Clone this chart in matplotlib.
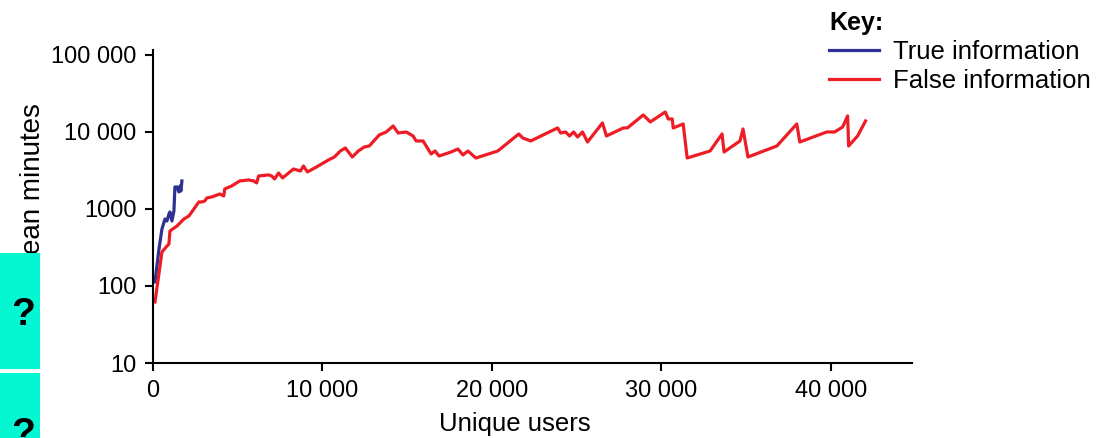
import matplotlib
matplotlib.use("Agg")
import matplotlib.pyplot as plt
from matplotlib.patches import Rectangle
from matplotlib.ticker import FixedLocator, NullLocator

plt.rcParams['font.family'] = ['Liberation Sans', 'DejaVu Sans']

# True information: unique users vs mean minutes
true_users = [118, 353, 529, 706, 824, 941, 1000, 1118, 1235, 1294, 1412, 1529, 1588, 1647, 1706]
true_minutes = [113, 302, 550, 741, 698, 861, 914, 698, 942, 1932, 1932, 1665, 1991, 1714, 2311]

# False information: unique users vs mean minutes
false_users = [118, 529, 824, 941, 1000, 1412, 1824, 2118, 2706, 2882, 3059, 3176, 3471, 3941,
               4176, 4235, 4647, 5118, 5647, 5941, 6118, 6235, 6824, 7000, 7176, 7412, 7647,
               8294, 8706, 8882, 9118, 9647, 10353, 10706, 11059, 11353, 11765, 12118, 12471,
               12765, 13353, 13765, 14176, 14471, 14941, 15353, 15529, 15941, 16412, 16647,
               16882, 17588, 18000, 18294, 18588, 19059, 20353, 21588, 21824, 22294, 23882,
               24059, 24353, 24588, 24824, 25059, 25353, 25647, 26529, 26765, 27765, 28000,
               28941, 29353, 30235, 30412, 30647, 30706, 31294, 31529, 32882, 33588, 33706,
               34647, 34824, 35118, 36824, 38000, 38176, 39765, 40235, 40706, 41000, 41059,
               41588, 42059]
false_minutes = [62, 277, 330, 351, 518, 601, 741, 811, 1233, 1233, 1270, 1390, 1432, 1567,
                 1476, 1820, 1991, 2311, 2383, 2311, 2178, 2686, 2767, 2686, 2455, 2938, 2530,
                 3306, 3115, 3616, 3025, 3510, 4325, 4733, 5665, 6197, 4733, 5665, 6385,
                 6581, 9140, 10000, 11970, 9700, 10000, 8870, 7640, 7640, 5180, 5665,
                 4875, 5495, 6010, 5025, 5665, 4590, 5665, 9420, 8360, 7640, 11280,
                 9700, 10000, 8870, 10000, 8610, 10000, 7410, 13100, 8870, 11280, 11280,
                 16630, 13500, 18190, 14760, 14760, 11280, 12710, 4590, 5665, 9420, 5495,
                 7640, 10940, 4733, 6581, 12710, 7410, 10000, 10000, 11610, 16150, 6581,
                 8870, 13900]

x_ticks = [0, 10000, 20000, 30000, 40000]
x_ticklabels = ['0', '10 000', '20 000', '30 000', '40 000']
y_ticks = [10, 100, 1000, 10000, 100000]
y_ticklabels = ['10', '100', '1000', '10 000', '100 000']

W, H = 1113, 438
fig = plt.figure(figsize=(W / 100, H / 100), dpi=100)
ax = fig.add_axes([153 / W, 1 - 363 / H, (912 - 153) / W, (363 - 50) / H])

ax.plot(true_users, true_minutes, color='#2E3192', lw=2.3, label='True information')
ax.plot(false_users, false_minutes, color='#EE1C25', lw=2.3, label='False information')

ax.set_yscale('log')
ax.set_xlim(0, 44800)
ax.set_ylim(10, 116000)
ax.xaxis.set_major_locator(FixedLocator(x_ticks))
ax.set_xticklabels(x_ticklabels)
ax.yaxis.set_major_locator(FixedLocator(y_ticks))
ax.yaxis.set_minor_locator(NullLocator())
ax.set_yticklabels(y_ticklabels)

for side in ['top', 'right']:
    ax.spines[side].set_visible(False)
for side in ['left', 'bottom']:
    ax.spines[side].set_linewidth(1.5)
ax.tick_params(width=1.5, length=6, labelsize=17, pad=6, colors='black')

ax.set_xlabel('Unique users', fontsize=18.5)
ax.xaxis.set_label_coords(0.477, -0.158)
ax.set_ylabel('Mean minutes', fontsize=20)
ax.yaxis.set_label_coords(-0.141, 0.553)

leg = ax.legend(title='Key:', loc='upper left', bbox_to_anchor=(829 / W, 1 - 11 / H),
                bbox_transform=fig.transFigure, frameon=False, fontsize=18.5,
                title_fontproperties={'weight': 'bold', 'size': 18}, alignment='left',
                borderpad=0, borderaxespad=0, handlelength=1.95, handletextpad=0.55,
                labelspacing=0.2)

# question-mark tabs on the left edge
for top, bottom in [(253, 369), (373, 489)]:
    fig.add_artist(Rectangle((0, 1 - bottom / H), 40 / W, (bottom - top) / H,
                             transform=fig.transFigure, facecolor='#05F7D2',
                             edgecolor='none', zorder=5))
    fig.text(23 / W, 1 - ((top + bottom) / 2 + 4) / H, '?', fontsize=28, fontweight='bold',
             ha='center', va='center', zorder=6)

fig.savefig('out.png', dpi=100)
